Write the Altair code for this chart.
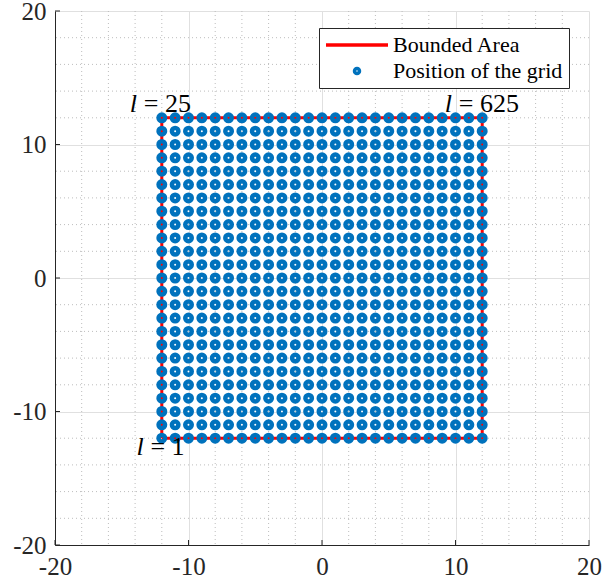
import altair as alt
import pandas as pd

# ---- data ----
grid_coords = list(range(-12, 13))          # 25 positions per axis
bound_x = [-12, 12, 12, -12, -12]
bound_y = [-12, -12, 12, 12, -12]
major_ticks = [-20, -10, 0, 10, 20]
minor_ticks = [-18, -16, -14, -12, -8, -6, -4, -2, 2, 4, 6, 8, 12, 14, 16, 18]
ann_x = [-14.4, 9.2, -13.9]
ann_y = [12.45, 12.45, -13.25]
ann_rest = ["= 25", "= 625", "= 1"]
series = ["Bounded Area", "Position of the grid"]

pts = pd.DataFrame(
    [{"x": gx, "y": gy, "series": series[1]} for gx in grid_coords for gy in grid_coords]
)
bound = pd.DataFrame({"x": bound_x, "y": bound_y, "o": list(range(len(bound_x)))})
minor = pd.DataFrame({"v": minor_ticks})
major = pd.DataFrame({"v": major_ticks})
ann = pd.DataFrame({"x": ann_x, "y": ann_y, "rest": ann_rest, "l": ["l"] * 3})

FONT = "Liberation Serif, Times New Roman, serif"
DARK = "#262626"

xs = alt.Scale(domain=[-20, 20], nice=False, zero=False)
ys = alt.Scale(domain=[-20, 20], nice=False, zero=False)

def mk_axis():
    return alt.Axis(values=major_ticks, grid=True, gridColor="#e0e0e0", gridWidth=1,
                    ticks=False, domainColor=DARK, domainWidth=1, labelFont=FONT,
                    labelFontSize=25, labelColor=DARK, labelPadding=9, labelFlush=False,
                    labelOverlap=False, title=None, labelExpr="'' + datum.value")

base_axes = alt.Chart(major).mark_point(opacity=0).encode(
    x=alt.X("v:Q", scale=xs, axis=mk_axis()),
    y=alt.Y("v:Q", scale=ys, axis=mk_axis()),
)

minor_x = alt.Chart(minor).mark_rule(color="#bdbdbd", strokeWidth=1, strokeDash=[1, 3]).encode(
    x=alt.X("v:Q", scale=xs)
)
minor_y = alt.Chart(minor).mark_rule(color="#bdbdbd", strokeWidth=1, strokeDash=[1, 3]).encode(
    y=alt.Y("v:Q", scale=ys)
)

line = alt.Chart(bound).mark_line(color="#FF0000", strokeWidth=3).encode(
    x=alt.X("x:Q", scale=xs),
    y=alt.Y("y:Q", scale=ys),
    order="o:Q",
)

points = alt.Chart(pts).mark_point(filled=False, size=42, strokeWidth=4.5, opacity=1).encode(
    x=alt.X("x:Q", scale=xs),
    y=alt.Y("y:Q", scale=ys),
    stroke=alt.Stroke("series:N",
                      scale=alt.Scale(domain=series, range=["#FF0000", "#0072BD"]),
                      legend=alt.Legend(title=None)),
    shape=alt.Shape("series:N",
                    scale=alt.Scale(domain=series, range=["M-12.4,0L12.4,0", "circle"]),
                    legend=alt.Legend(title=None)),
)

xticks = alt.Chart(major).mark_rule(color=DARK, strokeWidth=1).encode(
    x=alt.X("v:Q", scale=xs), y=alt.value(534), y2=alt.value(529)
)
yticks = alt.Chart(major).mark_rule(color=DARK, strokeWidth=1).encode(
    y=alt.Y("v:Q", scale=ys), x=alt.value(0), x2=alt.value(5)
)

ann_l = alt.Chart(ann).mark_text(font=FONT, fontSize=26, fontStyle="italic", align="left",
                                 baseline="alphabetic", color="black").encode(
    x=alt.X("x:Q", scale=xs), y=alt.Y("y:Q", scale=ys), text="l:N"
)
ann_r = alt.Chart(ann).mark_text(font=FONT, fontSize=26, align="left", dx=14,
                                 baseline="alphabetic", color="black").encode(
    x=alt.X("x:Q", scale=xs), y=alt.Y("y:Q", scale=ys), text="rest:N"
)

chart = alt.layer(base_axes, minor_x, minor_y, line, points, xticks, yticks, ann_l, ann_r).properties(
    width=534, height=534,
    autosize=alt.AutoSizeParams(type="none"),
    padding={"left": 55, "top": 11, "right": 14, "bottom": 42},
).configure_view(stroke=None).configure_legend(
    orient="none", legendX=264, legendY=17, strokeColor=DARK, fillColor="white",
    padding=6, labelFont=FONT, labelFontSize=22, labelColor="black",
    symbolStrokeWidth=3.5, symbolSize=25, symbolOffset=21, labelOffset=25,
    rowPadding=4, labelLimit=400,
)

chart.save("out.html", embed_options={"renderer": "svg", "actions": False})
